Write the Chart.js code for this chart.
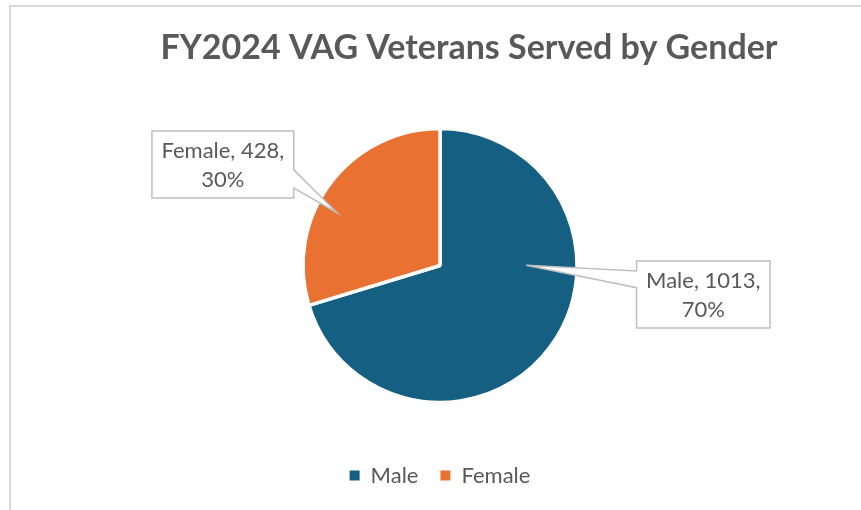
<!DOCTYPE html>
<html>
<head>
<meta charset="utf-8">
<script src="https://cdn.jsdelivr.net/npm/chart.js@4/dist/chart.umd.min.js"></script>
<style>
  html, body { margin: 0; padding: 0; background: #ffffff; }
  #wrap { position: relative; width: 861px; height: 510px; overflow: hidden; }
  #frame { position: absolute; left: 9px; top: 5px; right: -10px; bottom: -10px;
           border-left: 2px solid #d9d9d9; border-top: 2px solid #d9d9d9; }
  canvas { position: absolute; left: 0; top: 0; }
</style>
</head>
<body>
<div id="wrap">
  <div id="frame"></div>
  <canvas id="c" width="861" height="510"></canvas>
</div>
<script>
// ---- data ----
const categories = ['Male', 'Female'];
const values = [1013, 428];
const percentLabels = ['70%', '30%'];
const titleText = 'FY2024 VAG Veterans Served by Gender';

// ---- styling ----
const colors = ['#156082', '#E97132'];
const FONT = 'Lato, Calibri, Carlito, "Open Sans", sans-serif';
const textColor = '#595959';

// callout placement (in units of pie radius, relative to pie centre)
const calloutLayout = [
  { dx: 1.922, dy: 0.211, tipTurn: -36.7, tipFrac: 0.63, wedge: [0.15, 0.40] },
  { dx: -1.585, dy: -0.737, tipTurn: -9.4, tipFrac: 0.845, wedge: [0.58, 0.85] }
];

const calloutPlugin = {
  id: 'callouts',
  afterDatasetsDraw(chart) {
    const ctx = chart.ctx;
    const meta = chart.getDatasetMeta(0);
    ctx.save();
    ctx.font = '22px ' + FONT;
    meta.data.forEach((arc, i) => {
      const p = arc.getProps(['x', 'y', 'outerRadius', 'startAngle', 'endAngle'], true);
      const L = calloutLayout[i];
      const r = p.outerRadius;
      const mid = (p.startAngle + p.endAngle) / 2;
      const ta = mid + L.tipTurn * Math.PI / 180;
      const tipX = p.x + Math.cos(ta) * L.tipFrac * r;
      const tipY = p.y + Math.sin(ta) * L.tipFrac * r;
      const lines = [categories[i] + ', ' + values[i] + ',', percentLabels[i]];
      const tw = Math.max(...lines.map(s => ctx.measureText(s).width));
      const w = tw + 19, h = 67;
      const cx = p.x + L.dx * r, cy = p.y + L.dy * r;
      const left = cx - w / 2, top = cy - h / 2, right = left + w, bottom = top + h;
      ctx.beginPath();
      if (tipX > right) {
        ctx.moveTo(left, top); ctx.lineTo(right, top);
        ctx.lineTo(right, top + h * L.wedge[0]); ctx.lineTo(tipX, tipY);
        ctx.lineTo(right, top + h * L.wedge[1]); ctx.lineTo(right, bottom);
        ctx.lineTo(left, bottom); ctx.closePath();
      } else {
        ctx.moveTo(left, top); ctx.lineTo(right, top); ctx.lineTo(right, bottom);
        ctx.lineTo(left, bottom); ctx.lineTo(left, top + h * L.wedge[1]);
        ctx.lineTo(tipX, tipY); ctx.lineTo(left, top + h * L.wedge[0]);
        ctx.closePath();
      }
      ctx.fillStyle = '#ffffff';
      ctx.fill();
      ctx.lineWidth = 1.5;
      ctx.strokeStyle = '#bfbfbf';
      ctx.stroke();
      ctx.fillStyle = textColor;
      ctx.textAlign = 'center';
      ctx.textBaseline = 'alphabetic';
      ctx.fillText(lines[0], cx, top + 27);
      ctx.fillText(lines[1], cx, top + 56);
    });
    ctx.restore();
  }
};

new Chart(document.getElementById('c'), {
  type: 'pie',
  data: {
    labels: categories,
    datasets: [{
      data: values,
      backgroundColor: colors,
      borderColor: '#ffffff',
      borderWidth: 3.5,
      radius: 137
    }]
  },
  options: {
    responsive: false,
    animation: false,
    layout: { padding: { left: 77, right: 0, top: 0, bottom: 13.5 } },
    plugins: {
      title: {
        display: true,
        text: titleText,
        color: textColor,
        font: { family: FONT, size: 34, weight: 'bold', lineHeight: 1.2 },
        padding: { top: 27.6, bottom: 20.1 }
      },
      subtitle: {
        display: true,
        position: 'right',
        text: '',
        font: { size: 1, lineHeight: 1 },
        padding: { top: 57, bottom: 0 }
      },
      legend: {
        position: 'bottom',
        fullSize: false,
        labels: {
          color: textColor,
          font: { family: FONT, size: 22 },
          boxWidth: 10,
          boxHeight: 10,
          padding: 22,
          generateLabels(chart) {
            const items = Chart.overrides.pie.plugins.legend.labels.generateLabels(chart);
            items.forEach(it => { it.strokeStyle = it.fillStyle; it.lineWidth = 0; });
            return items;
          }
        }
      },
      tooltip: { enabled: false }
    }
  },
  plugins: [calloutPlugin]
});
</script>
</body>
</html>
